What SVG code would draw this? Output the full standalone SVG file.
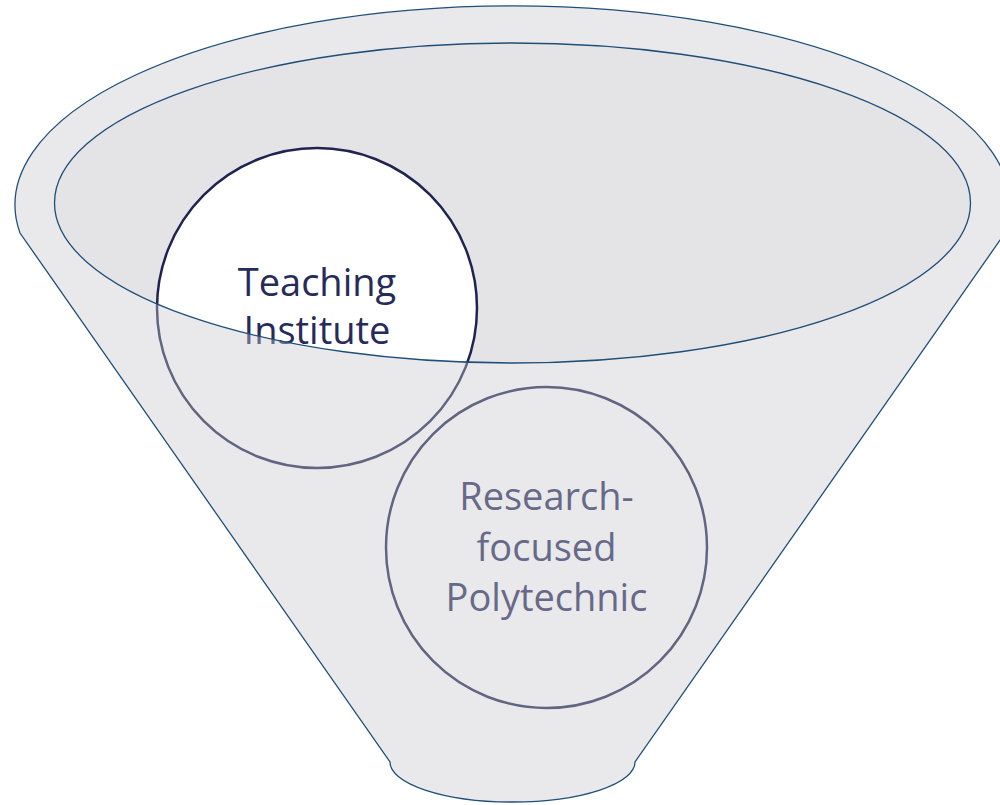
<svg xmlns="http://www.w3.org/2000/svg" width="1000" height="805" viewBox="0 0 1000 805">
  <style>
    .node-circle { fill: #FFFFFF; stroke: #1F2350; stroke-width: 2.5; }
    .label { font-family: "Open Sans", "Liberation Sans", sans-serif; font-size: 38px; fill: #262B5A; text-anchor: middle; }
    .outline { fill: none; stroke: #1F4E79; stroke-width: 1.3; }
  </style>
  <rect x="0" y="0" width="1000" height="805" fill="#FFFFFF"/>
  <g id="funnel-inner">
    <ellipse cx="512.5" cy="203" rx="458" ry="160" fill="#E4E4E7"/>
  </g>
  <g id="node-teaching">
    <circle class="node-circle" cx="317" cy="308" r="160"/>
    <text class="label" x="317" y="296">Teaching</text>
    <text class="label" x="317" y="344">Institute</text>
  </g>
  <g id="node-research">
    <circle class="node-circle" cx="546.5" cy="547.5" r="160.5"/>
    <text class="label" x="546.5" y="510">Research-</text>
    <text class="label" x="546.5" y="561">focused</text>
    <text class="label" x="546.5" y="611">Polytechnic</text>
  </g>
  <g id="funnel-body">
    <path fill="#C7C9CE" fill-opacity="0.4" fill-rule="evenodd" d="M 20 233 A 497.5 199 0 1 1 1005 233 L 635 762 A 122.5 40 0 0 1 390 762 Z M 54.5 203 A 458 160 0 1 0 970.5 203 A 458 160 0 1 0 54.5 203 Z"/>
    <path class="outline" d="M 20 233 A 497.5 199 0 1 1 1005 233 L 635 762 A 122.5 40 0 0 1 390 762 Z"/>
    <ellipse class="outline" cx="512.5" cy="203" rx="458" ry="160"/>
  </g>
  <g id="connectors"></g>
</svg>
